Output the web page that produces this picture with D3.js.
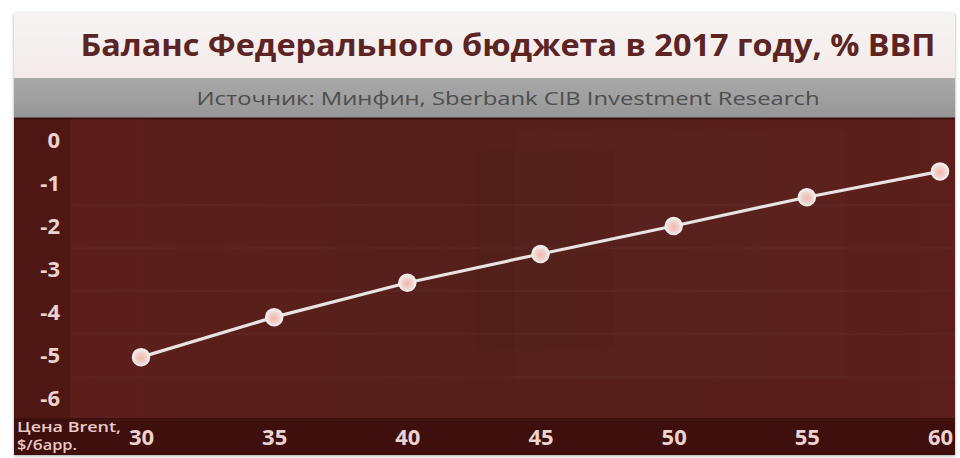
<!DOCTYPE html>
<html><head><meta charset="utf-8">
<script src="https://cdn.jsdelivr.net/npm/d3@7/dist/d3.min.js"></script>
<style>html,body{margin:0;padding:0;background:#fff;}svg{display:block;}</style>
</head><body>
<svg id="c" width="960" height="458"></svg>
<script>
const title = "Баланс Федерального бюджета в 2017 году, % ВВП";
const subtitle = "Источник: Минфин, Sberbank CIB Investment Research";
const prices = [30, 35, 40, 45, 50, 55, 60];
const balance = [-5.05, -4.12, -3.32, -2.65, -2.0, -1.33, -0.73];
const yTicks = [0, -1, -2, -3, -4, -5, -6];
const xAxisLabel = ["Цена Brent,", "$/барр."];

const svg = d3.select("#c");
const L = 14, R = 955, T = 13, B = 455;
const defs = svg.append("defs");
const sh = defs.append("filter").attr("id","sh").attr("x","-5%").attr("y","-5%").attr("width","110%").attr("height","110%");
sh.append("feDropShadow").attr("dx",0).attr("dy",1).attr("stdDeviation",1.5).attr("flood-color","#000").attr("flood-opacity",0.35);
const gTop = defs.append("linearGradient").attr("id","gt").attr("x1",0).attr("x2",0).attr("y1",0).attr("y2",1);
gTop.append("stop").attr("offset",0).attr("stop-color","#f6f4f3");
gTop.append("stop").attr("offset",1).attr("stop-color","#f3ebea");
const gGrey = defs.append("linearGradient").attr("id","gg").attr("x1",0).attr("x2",0).attr("y1",0).attr("y2",1);
gGrey.append("stop").attr("offset",0).attr("stop-color","#a9a9a9");
gGrey.append("stop").attr("offset",1).attr("stop-color","#969696");
const gPlot = defs.append("linearGradient").attr("id","gp").attr("x1",0).attr("x2",1).attr("y1",0).attr("y2",0);
gPlot.append("stop").attr("offset",0).attr("stop-color","#5e1e1a");
gPlot.append("stop").attr("offset",0.5).attr("stop-color","#55201c");
gPlot.append("stop").attr("offset",1).attr("stop-color","#5c1f1b");
const gDot = defs.append("radialGradient").attr("id","gd").attr("cx","50%").attr("cy","55%").attr("r","50%");
gDot.append("stop").attr("offset",0).attr("stop-color","#f2b8ab");
gDot.append("stop").attr("offset",0.6).attr("stop-color","#f1d2cb");
gDot.append("stop").attr("offset",1).attr("stop-color","#f4eeec");

const card = svg.append("g");
card.append("rect").attr("x",L).attr("y",T).attr("width",R-L).attr("height",B-T).attr("fill","#5a1e1a").attr("filter","url(#sh)");
card.append("rect").attr("x",L).attr("y",T).attr("width",R-L).attr("height",65).attr("fill","url(#gt)");
card.append("rect").attr("x",L).attr("y",78).attr("width",R-L).attr("height",40).attr("fill","url(#gg)");
card.append("rect").attr("x",L).attr("y",118).attr("width",R-L).attr("height",300).attr("fill","url(#gp)");
// subtle background panels
card.append("rect").attr("x",475).attr("y",150).attr("width",140).attr("height",200).attr("fill","#000").attr("opacity",0.025);
card.append("rect").attr("x",515).attr("y",130).attr("width",330).attr("height",250).attr("fill","#fff").attr("opacity",0.012);
card.append("rect").attr("x",L).attr("y",118).attr("width",56).attr("height",300).attr("fill","#3c0f0c").attr("opacity",0.45);
card.append("rect").attr("x",L).attr("y",418).attr("width",R-L).attr("height",37).attr("fill","#3e0f0c");
card.append("line").attr("x1",L).attr("x2",R).attr("y1",118.5).attr("y2",118.5).attr("stroke","#3a0e0c").attr("stroke-width",2);

svg.append("text").attr("x",508).attr("y",56).attr("text-anchor","middle")
  .attr("font-family","Open Sans").attr("font-weight","bold").attr("font-size",31)
  .attr("fill","#5c2423").attr("textLength",855).attr("lengthAdjust","spacingAndGlyphs").text(title);
svg.append("text").attr("x",508).attr("y",105).attr("text-anchor","middle")
  .attr("font-family","Open Sans").attr("font-size",18)
  .attr("fill","#4e4e4e").attr("textLength",623).attr("lengthAdjust","spacingAndGlyphs").text(subtitle);

const x = d3.scaleLinear().domain([30, 60]).range([141, 940]);
const y = d3.scaleLinear().domain([-6, 0]).range([398, 140]);

// faint gridlines
svg.append("g").selectAll("line").data(yTicks.slice(1)).join("line")
  .attr("x1",72).attr("x2",R).attr("y1",d=>y(d)+22).attr("y2",d=>y(d)+22)
  .attr("stroke","#fff").attr("stroke-opacity",0.035).attr("stroke-width",1.5);

const yAxis = svg.append("g").attr("transform","translate(60,0)")
  .call(d3.axisLeft(y).tickValues(yTicks).tickSize(0).tickPadding(0).tickFormat(d=>String(d)));
yAxis.select(".domain").remove();
yAxis.selectAll("text").attr("font-family","Open Sans").attr("font-weight","bold").attr("font-size",22)
  .attr("fill","#ecd3d0").attr("dy","0.36em");

const xAxis = svg.append("g").attr("transform","translate(0,437)")
  .call(d3.axisBottom(x).tickValues(prices).tickSize(0).tickPadding(0).tickFormat(d=>String(d)));
xAxis.select(".domain").remove();
xAxis.selectAll("text").attr("font-family","Open Sans").attr("font-weight","bold").attr("font-size",22)
  .attr("fill","#ecd3d0").attr("dy","0.36em");

const xl = svg.append("text").attr("font-family","Open Sans").attr("font-weight","600").attr("font-size",14.5)
  .attr("fill","#e8cbc8");
xl.append("tspan").attr("x",17).attr("y",432).attr("textLength",104).attr("lengthAdjust","spacingAndGlyphs").text(xAxisLabel[0]);
xl.append("tspan").attr("x",17).attr("y",450).attr("textLength",60).attr("lengthAdjust","spacingAndGlyphs").text(xAxisLabel[1]);

const pts = prices.map((p,i)=>[p, balance[i]]);
svg.append("path").datum(pts)
  .attr("d", d3.line().x(d=>x(d[0])).y(d=>y(d[1])))
  .attr("fill","none").attr("stroke","#e9e3e2").attr("stroke-width",3.2);
svg.append("g").selectAll("circle").data(pts).join("circle")
  .attr("cx",d=>x(d[0])).attr("cy",d=>y(d[1])).attr("r",8.5)
  .attr("fill","url(#gd)").attr("stroke","#f2eceb").attr("stroke-width",1.5);
</script>
</body></html>
